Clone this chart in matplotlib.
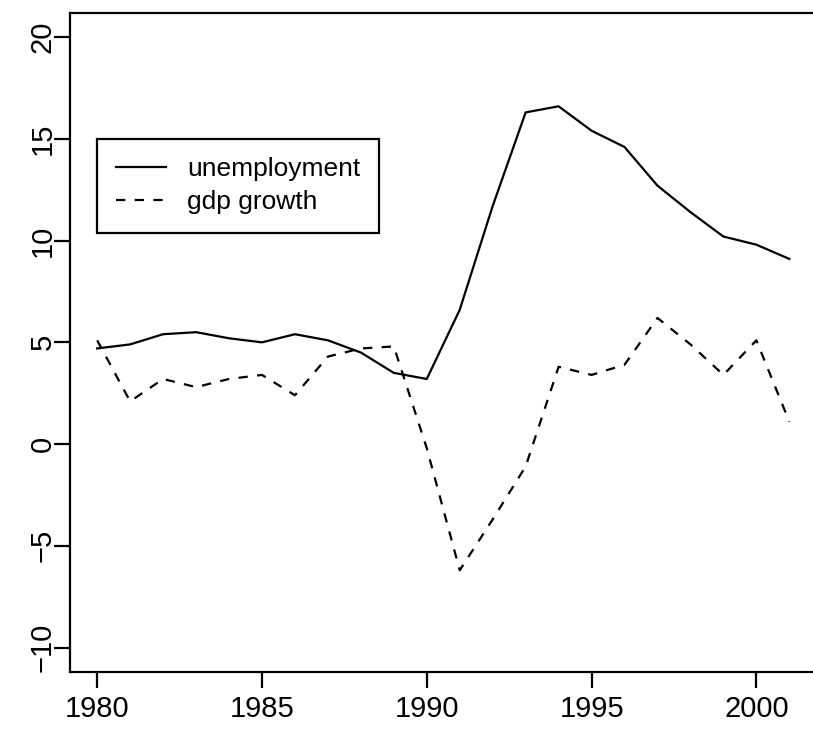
import matplotlib
matplotlib.use("Agg")
import matplotlib.pyplot as plt

years = list(range(1980, 2002))
unemployment = [4.7, 4.9, 5.4, 5.5, 5.2, 5.0, 5.4, 5.1, 4.5, 3.5, 3.2,
                6.6, 11.7, 16.3, 16.6, 15.4, 14.6, 12.7, 11.4, 10.2, 9.8, 9.1]
gdp_growth = [5.1, 2.1, 3.2, 2.8, 3.2, 3.4, 2.4, 4.3, 4.7, 4.8, -0.2,
              -6.2, -3.7, -1.1, 3.8, 3.4, 3.9, 6.2, 4.9, 3.4, 5.1, 1.1]
x_ticks = [1980, 1985, 1990, 1995, 2000]
y_ticks = [-10, -5, 0, 5, 10, 15, 20]
series_labels = ["unemployment", "gdp growth"]

plt.rcParams['font.family'] = ['Liberation Sans', 'DejaVu Sans']

W, H = 813, 731
fig = plt.figure(figsize=(W / 100, H / 100), dpi=100)
left, right, top, bottom = 69.5, 817.0, 12.7, 672.0
ax = fig.add_axes([left / W, (H - bottom) / H, (right - left) / W, (bottom - top) / H])

lw = 1.6
ax.plot(years, unemployment, color="black", lw=lw, solid_joinstyle="round",
        label=series_labels[0])
ax.plot(years, gdp_growth, color="black", lw=lw, linestyle=(0, (4.2, 4.2)),
        label=series_labels[1])

# R-style axis ranges: data range padded by 4% on each side
x0, x1 = years[0], years[-1]
xpad = 0.04 * (x1 - x0)
ax.set_xlim(x0 - xpad, x1 + xpad)
ax.set_ylim(-10 - 1.2, 20 + 1.2)

ax.set_xticks(x_ticks)
ax.set_yticks(y_ticks)
ax.set_xticklabels([str(v) for v in x_ticks])
ax.set_yticklabels([str(v).replace("-", "\u2212") for v in y_ticks],
                   rotation=90, va="center")

for s in ax.spines.values():
    s.set_linewidth(lw)
ax.tick_params(axis="both", direction="out", length=11.5, width=lw,
               labelsize=21, colors="black")
ax.tick_params(axis="x", pad=5)
ax.tick_params(axis="y", pad=-2.5)

leg = ax.legend(loc="upper left", bbox_to_anchor=(1980, 15),
                bbox_transform=ax.transData, fontsize=19,
                frameon=True, fancybox=False, shadow=False,
                handlelength=1.9, handletextpad=0.8, borderpad=0.7,
                labelspacing=0.34, borderaxespad=0.0)
leg.get_frame().set_edgecolor("black")
leg.get_frame().set_linewidth(lw)
leg.get_frame().set_alpha(1)

fig.savefig("out.png", dpi=100)
